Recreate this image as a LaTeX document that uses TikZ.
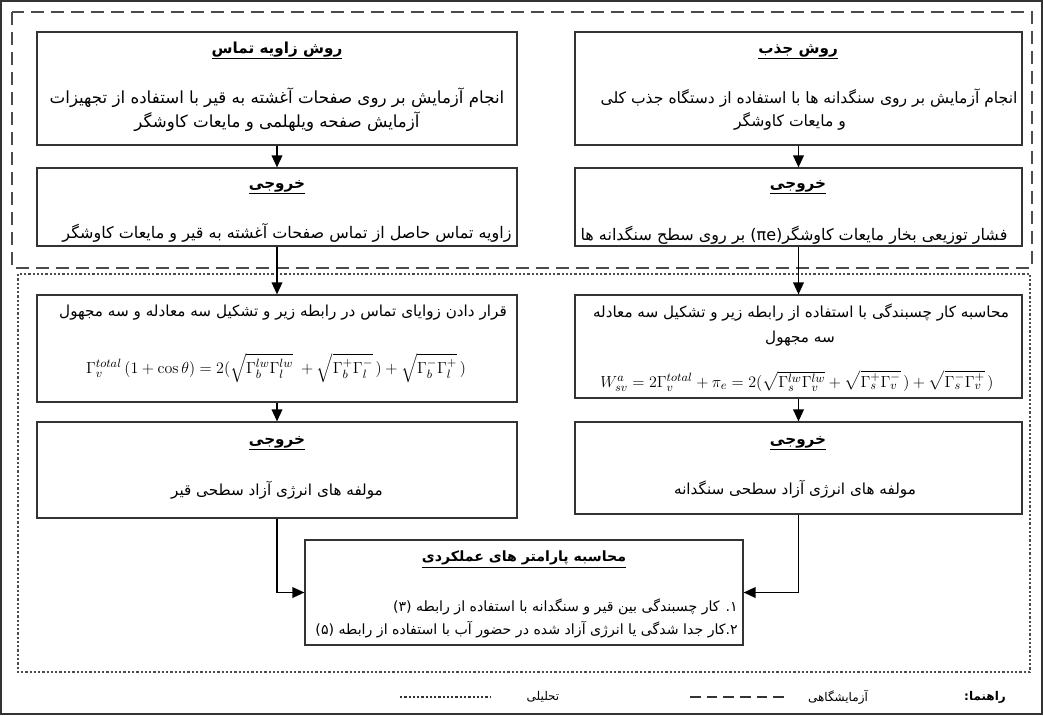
\documentclass[tikz,border=0pt]{standalone}
\usepackage[no-math]{fontspec}
\usepackage{amsmath}
\setmainfont{DejaVu Sans}
\newfontfamily\fa[Script=Arabic]{DejaVu Sans}
\TeXXeTstate=1
\usetikzlibrary{arrows.meta}
\newcommand{\rl}[1]{{\fa\beginR #1\endR}}
\newcommand{\ul}[1]{\underline{\smash{\rl{#1}}\vphantom{g}}}
\tikzset{
  box/.style={draw=black!80, line width=0.9pt, inner sep=0pt},
  arr/.style={-{Triangle[width=8pt,length=9pt]}, line width=1.1pt, black},
  txt/.style={inner sep=0pt, font=\fa\fontsize{11.4}{13}\selectfont},
  txtA/.style={inner sep=0pt, font=\fa\fontsize{12.5}{14}\selectfont},
  txtB/.style={inner sep=0pt, font=\fa\fontsize{12}{14}\selectfont},
  txtC/.style={inner sep=0pt, font=\fa\fontsize{10.6}{12}\selectfont},
  ttl/.style={inner sep=0pt, font=\fa\bfseries\fontsize{11.4}{13}\selectfont},
  eq/.style={inner sep=0pt, font=\fontsize{13.2}{15}\selectfont},
  lab/.style={draw=black!70, line width=1.2pt, dash pattern=on 10pt off 5pt},
  ana/.style={draw=black!70, line width=1.5pt, dash pattern=on 1.7pt off 1.5pt},
  leg/.style={inner sep=0pt, font=\fa\fontsize{9}{11}\selectfont}
}
\begin{document}
\begin{tikzpicture}[x=0.75pt,y=-0.75pt]
\useasboundingbox (0,0) rectangle (1043,715);
\draw[line width=0.9pt, black!80] (1,1) rectangle (1042,714);
% group frames
\draw[lab] (12,12) rectangle (1032,268);
\draw[ana] (18,274) rectangle (1030,672);

% boxes
\node[box, minimum width=360pt, minimum height=84.75pt] (a1) at (277,88.5) {};
\node[box, minimum width=335.25pt, minimum height=84.75pt] (b1) at (798.5,88.5) {};
\node[box, minimum width=360pt, minimum height=58.5pt] (a2) at (277,207) {};
\node[box, minimum width=335.25pt, minimum height=58.5pt] (b2) at (798.5,207) {};
\node[box, minimum width=360pt, minimum height=80.25pt] (a3) at (277,348.5) {};
\node[box, minimum width=335.25pt, minimum height=77.25pt] (b3) at (798.5,346.5) {};
\node[box, minimum width=360pt, minimum height=72pt] (a4) at (277,470) {};
\node[box, minimum width=335.25pt, minimum height=69pt] (b4) at (798.5,468) {};
\node[box, minimum width=328.5pt, minimum height=78.75pt] (c) at (524,592.5) {};

% texts: top-left
\node[ttl] (a1t) at (277,52) {\ul{روش زاویه تماس}};
\node[txtA] (a1l1) at (277,98) {\rl{انجام آزمایش بر روی صفحات آغشته به قیر با استفاده از تجهیزات}};
\node[txtA] (a1l2) at (277,122) {\rl{آزمایش صفحه ویلهلمی و مایعات کاوشگر}};
% top-right
\node[ttl] (b1t) at (798,52) {\ul{روش جذب}};
\node[txtB, font=\fa\fontsize{11.7}{14}\selectfont] (b1l1) at (809,98) {\rl{انجام آزمایش بر روی سنگدانه ها با استفاده از دستگاه جذب کلی}};
\node[txtB, font=\fa\fontsize{11.7}{14}\selectfont] (b1l2) at (790,121) {\rl{و مایعات کاوشگر}};
% outputs
\node[ttl] (a2t) at (277,187) {\ul{خروجی}};
\node[txtB] (a2l) at (287,233) {\rl{زاویه تماس حاصل از تماس صفحات آغشته به قیر و مایعات کاوشگر}};
\node[ttl] (b2t) at (798,187) {\ul{خروجی}};
\node[txtB] (b2l) at (794,235) {\rl{فشار توزیعی بخار مایعات کاوشگر(πe)  بر روی سطح سنگدانه ها}};
% formula boxes
\node[txt] (a3l) at (283,313) {\rl{قرار دادن زوایای تماس در رابطه زیر و تشکیل سه معادله و سه مجهول}};
\node[eq] (a3e) at (276,368) {$\Gamma_v^{total}\,(1+\cos\theta)=2(\sqrt{\Gamma_b^{lw}\Gamma_l^{lw}}\;+\sqrt{\Gamma_b^{+}\Gamma_l^{-}}\,)+\sqrt{\Gamma_b^{-}\Gamma_l^{+}}\,)$};
\node[txt] (b3l1) at (801,313) {\rl{محاسبه کار چسبندگی با استفاده از رابطه زیر و تشکیل سه معادله}};
\node[txt] (b3l2) at (800,339) {\rl{سه مجهول}};
\node[eq] (b3e) at (797,381) {$W_{sv}^{a}=2\Gamma_v^{total}+\pi_e=2(\sqrt{\Gamma_s^{lw}\Gamma_v^{lw}}+\sqrt{\Gamma_s^{+}\Gamma_v^{-}}\,)+\sqrt{\Gamma_s^{-}\Gamma_v^{+}}\,)$};
% results
\node[ttl] (a4t) at (277,443) {\ul{خروجی}};
\node[txt] (a4l) at (277,490) {\rl{مولفه های انرژی آزاد سطحی قیر}};
\node[ttl] (b4t) at (798,443) {\ul{خروجی}};
\node[txt] (b4l) at (795,489) {\rl{مولفه های انرژی آزاد سطحی سنگدانه}};
% bottom
\node[ttl, font=\fa\bfseries\fontsize{10.6}{12}\selectfont] (ct) at (524,561) {\ul{محاسبه پارامتر های عملکردی}};
\node[txtC, anchor=east] (cl1) at (738,607) {\rl{۱. کار چسبندگی بین قیر و سنگدانه با استفاده از رابطه (۳)}};
\node[txtC, anchor=east] (cl2) at (738,630) {\rl{۲.کار جدا شدگی یا انرژی آزاد شده در حضور آب با استفاده از رابطه (۵)}};

% connectors
\draw[arr] (a1) -- (a2);
\draw[arr] (b1) -- (b2);
\draw[arr] (a2) -- (a3);
\draw[arr] (b2) -- (b3);
\draw[arr] (a3) -- (a4);
\draw[arr] (b3) -- (b4);
\draw[arr] (a4.south) |- (c.west);
\draw[arr] (b4.south) |- (c.east);

% legend
\node[leg, font=\fa\bfseries\fontsize{9}{11}\selectfont] (lg0) at (985,697) {\rl{راهنما:}};
\node[leg] (lg1) at (838,697) {\rl{آزمایشگاهی}};
\node[leg] (lg2) at (543,697) {\rl{تحلیلی}};
\coordinate (d1) at (690,697);
\coordinate (d2) at (787,697);
\coordinate (e1) at (400,697);
\coordinate (e2) at (490,697);
\draw[black!80, line width=0.9pt, dash pattern=on 8pt off 4.5pt] (d1) -- (d2);
\draw[black!80, line width=1.5pt, dash pattern=on 1.7pt off 1.5pt] (e1) -- (e2);
\end{tikzpicture}
\end{document}
